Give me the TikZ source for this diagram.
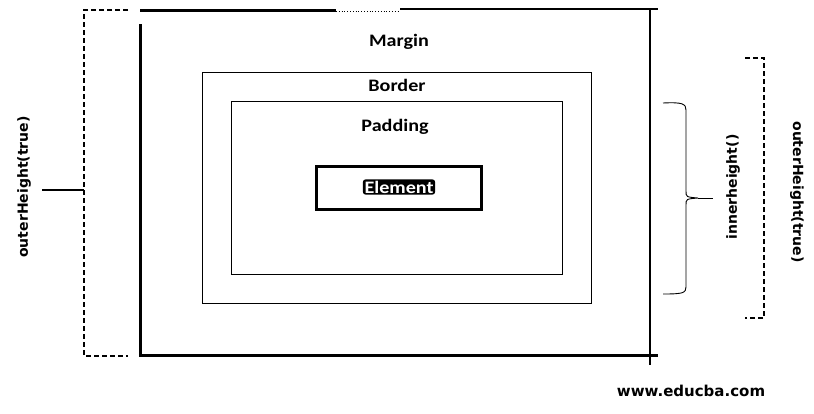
\documentclass[tikz,border=0pt]{standalone}
\usepackage{fontspec}
\setmainfont{DejaVu Sans}
\newfontfamily\boxfont{Carlito}
\usetikzlibrary{positioning}

\begin{document}
\begin{tikzpicture}[x=1pt,y=-1pt,
    thick line/.style={line width=3pt},
    thin box/.style={draw,line width=0.9pt,inner sep=0pt},
    elem box/.style={draw,line width=3pt,inner sep=0pt,minimum width=165pt,minimum height=43pt},
    box label/.style={font=\boxfont\bfseries\fontsize{17.5}{17.5}\selectfont,xscale=1.15},
    side label/.style={font=\bfseries\fontsize{14}{14}\selectfont},
    bracket/.style={line width=1.6pt,dash pattern=on 5pt off 3pt}
   ]
  \useasboundingbox (0,0) rectangle (814,413);

  % margin box (open at the upper left)
  \draw[thick line] (140,10) -- (336,10);
  \draw[line width=0.8pt,dotted] (336,11) -- (400,11);
  \draw[line width=2.2pt] (400,9) -- (658,9);
  \draw[thick line] (140,24) -- (140,355) -- (658,355);
  \draw[line width=2.6pt] (650,9) -- (650,365);

  \node[thin box,minimum width=389pt,minimum height=231pt] (border) at (396.5,187.5) {};
  \node[thin box,minimum width=331pt,minimum height=173pt] (padding) at (396.5,187.5) {};
  \node[elem box] (element) at (399,188) {};

  \node[box label] (margin) at (399,42) {Margin};
  \node[box label] (bordertxt) at (397,85) {Border};
  \node[box label] (paddingtxt) at (395,127) {Padding};
  \node[box label,fill=black,text=white,rounded corners=3pt,inner sep=1.5pt] (elemtxt) at (399,187) {Element};

  % left bracket
  \coordinate (lmid) at (84,190);
  \coordinate (ltick) at (42,190);
  \draw[bracket] (128,10) -- (84,10) -- (84,356) -- (128,356);
  \draw[line width=1.6pt] (ltick) -- (lmid);
  \node[side label,rotate=90] (outerleft) at (24,187) {outerHeight(true)};

  % brace for innerheight
  \coordinate (tip) at (698,198);
  \coordinate (tickend) at (713,198);
  \draw[line width=0.9pt] (663,103) .. controls (683,102) and (686,104) .. (686,110)
    -- (686,191) .. controls (686,197) .. (tip)
    .. controls (686,199) .. (686,205) -- (686,287)
    .. controls (686,293) and (683,294) .. (663,294);
  \draw[line width=0.9pt] (tip) -- (tickend);
  \node[side label,rotate=90] (inner) at (733,187) {innerheight()};

  % right bracket
  \draw[bracket] (745,58) -- (764,58) -- (764,318) -- (745,318);
  \node[side label,rotate=-90] (outerright) at (797,192) {outerHeight(true)};

  \node[side label,font=\bfseries\fontsize{15}{15}\selectfont] (site) at (691,391) {www.educba.com};
\end{tikzpicture}
\end{document}
